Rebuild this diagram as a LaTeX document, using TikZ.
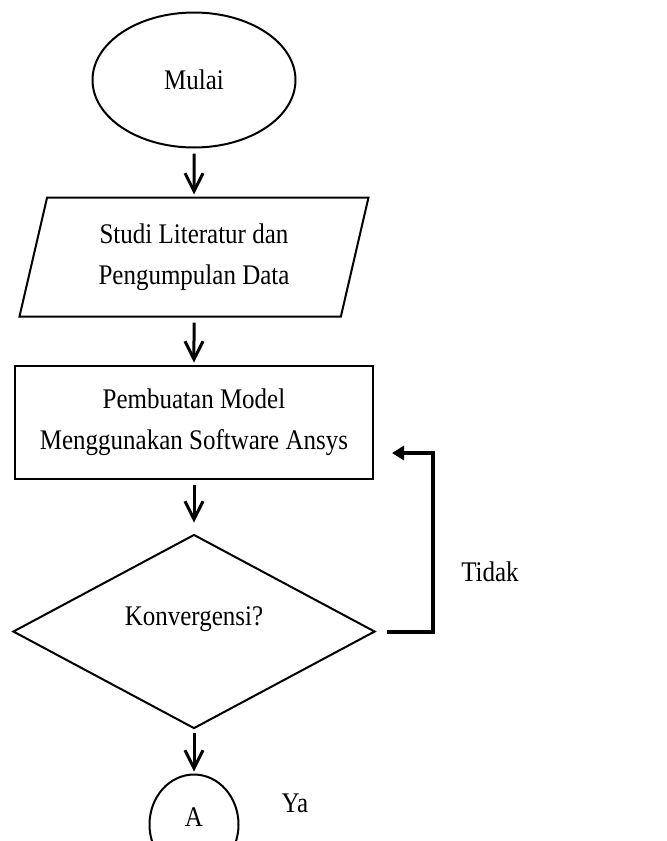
\documentclass[tikz,border=0pt]{standalone}
\usepackage{fontspec}
\setmainfont{Liberation Serif}[FakeStretch=0.88]
\usepackage{tikz}
\usetikzlibrary{arrows.meta,positioning,calc,shapes.geometric}

\begin{document}
\begin{tikzpicture}[
x=0.5pt,y=-0.5pt,
font=\fontsize{14.2}{20.5}\selectfont,
node distance=25pt,
terminal/.style={ellipse,draw,line width=1pt,minimum width=101.5pt,minimum height=67.5pt},
dataio/.style={trapezium,trapezium left angle=71,trapezium right angle=109,trapezium stretches body,draw,line width=1pt,align=center,minimum width=174.5pt,minimum height=59.5pt},
process/.style={rectangle,draw,line width=1pt,align=center,minimum width=179pt,minimum height=56.5pt},
decision/.style={diamond,draw,line width=1pt,aspect=1.87,minimum width=181pt,minimum height=97pt,inner sep=0pt,text height=9pt,text depth=15pt},
connector/.style={ellipse,draw,line width=1pt,minimum width=44.5pt,minimum height=50pt,inner sep=0pt,text height=9pt,text depth=7pt},
lbl/.style={inner sep=0pt},
arr/.style={-{Straight Barb[length=9pt,width=9pt]},line width=1.5pt,shorten <=2.5pt,shorten >=1pt},
back/.style={-{Triangle[length=6pt,width=7pt]},line width=2pt}
]
\useasboundingbox (0,0) rectangle (666,841);
\node[terminal] (mulai) at (194,80) {Mulai};
\node[dataio,below=24pt of mulai] (studi) {Studi Literatur dan\\Pengumpulan Data};
\node[process,below=23.5pt of studi] (model) {Pembuatan Model\\Menggunakan Software Ansys};
\node[decision,below=27pt of model] (konv) {Konvergensi?};
\node[connector,below=22pt of konv] (a) {A};
\node[lbl] (tidak) at (490,572) {Tidak};
\node[lbl] (ya) at (295,803) {Ya};
\draw[arr] (mulai)--(studi);
\draw[arr] (studi)--(model);
\draw[arr,shorten >=5.5pt] (model)--(konv);
\draw[arr,shorten <=1.5pt] (konv)--(a);
\coordinate (backin) at ($(model.east)+(18,31)$);
\draw[back,shorten <=5.5pt] (konv.east)--++(57,0)|-(backin);
\end{tikzpicture}
\end{document}
